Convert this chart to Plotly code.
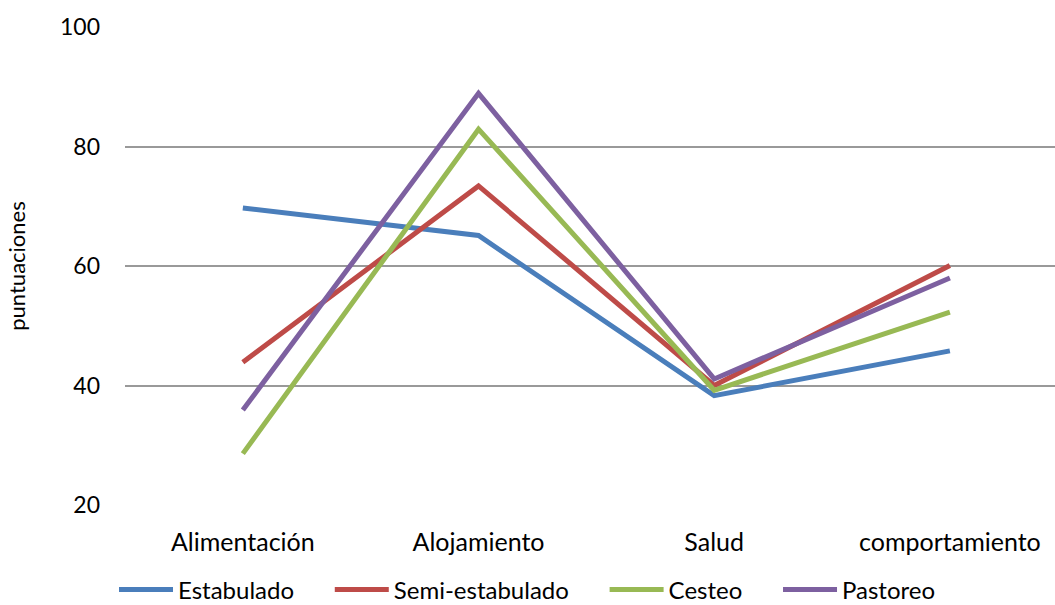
import plotly.graph_objects as go

categories = ["Alimentación", "Alojamiento", "Salud", "comportamiento"]
estabulado = [69.7, 65.1, 38.3, 45.8]
semi_estabulado = [43.9, 73.4, 40.0, 60.1]
cesteo = [28.6, 82.9, 39.2, 52.3]
pastoreo = [35.9, 88.9, 41.1, 58.0]
y_ticks = [20, 40, 60, 80, 100]

series = [
    ("Estabulado", estabulado, "#4A7EBB"),
    ("Semi-estabulado", semi_estabulado, "#BE4B48"),
    ("Cesteo", cesteo, "#98B954"),
    ("Pastoreo", pastoreo, "#7D60A0"),
]

FONT = "Lato, Open Sans, sans-serif"
PAD = "\u00a0" * 5
fig = go.Figure()
for i, (name, vals, col) in enumerate(series):
    fig.add_trace(go.Scatter(
        x=list(range(len(categories))), y=vals,
        name=name + (PAD if i < len(series) - 1 else ""), mode="lines",
        line=dict(color=col, width=5),
    ))

fig.update_layout(
    width=1055, height=605,
    margin=dict(l=125, r=0, t=27, b=100, autoexpand=False),
    paper_bgcolor="white", plot_bgcolor="white",
    font=dict(family=FONT, size=23, color="black"),
    showlegend=True,
    legend=dict(orientation="h", x=0.5, xanchor="center", xref="container",
                y=1 - 590 / 605, yanchor="middle", yref="container",
                font=dict(size=24), itemwidth=54, tracegroupgap=0,
                traceorder="normal"),
    xaxis=dict(
        tickmode="array", tickvals=list(range(len(categories))), ticktext=categories,
        range=[-0.5, 3.446], showgrid=False, zeroline=False, showline=False,
        ticks="", ticklabelstandoff=20, tickfont=dict(size=25),
    ),
    yaxis=dict(
        range=[20, 100], tickvals=y_ticks, showgrid=True, gridcolor="#999999",
        gridwidth=1.5, zeroline=False, showline=False, ticks="",
        ticklabelstandoff=24,
        title=dict(text="puntuaciones", font=dict(size=22), standoff=28),
    ),
)

fig.write_html("out.html")
